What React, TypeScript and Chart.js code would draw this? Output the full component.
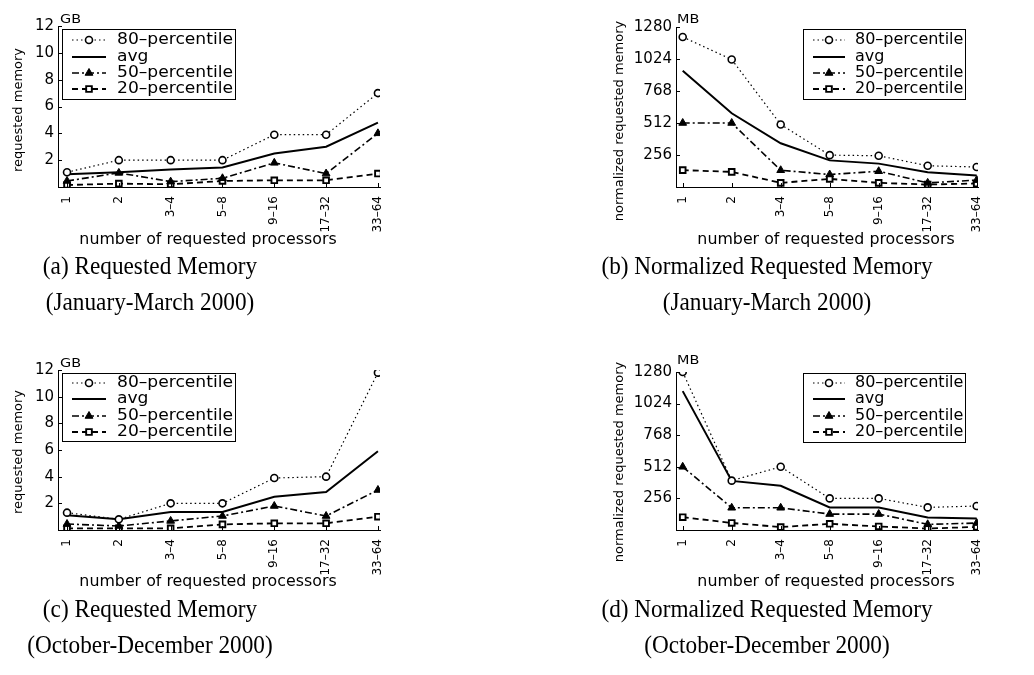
import React, { useEffect, useRef } from 'react';
import { Chart, registerables } from 'chart.js';

Chart.register(...registerables);

// Processor-count buckets on the x axis
const processorGroups = ['1', '2', '3–4', '5–8', '9–16', '17–32', '33–64'];
const seriesNames = ['80–percentile', 'avg', '50–percentile', '20–percentile'];

// Y tick values
const gbTicks = [2, 4, 6, 8, 10, 12];
const mbTicks = [256, 512, 768, 1024, 1280];

// (a) Requested memory, January–March 2000 (GB)
const janMarP80 = [1.1, 2.0, 2.0, 2.0, 3.9, 3.9, 7.0];
const janMarAvg = [0.95, 1.1, 1.3, 1.45, 2.5, 3.0, 4.8];
const janMarP50 = [0.45, 1.05, 0.4, 0.65, 1.8, 1.0, 4.0];
const janMarP20 = [0.15, 0.25, 0.2, 0.45, 0.5, 0.5, 1.0];

// (b) Normalized requested memory, January–March 2000 (MB)
const janMarNormP80 = [1200, 1020, 500, 255, 250, 170, 160];
const janMarNormAvg = [930, 590, 350, 213, 187, 118, 92];
const janMarNormP50 = [512, 512, 134, 100, 126, 33, 55];
const janMarNormP20 = [135, 121, 33, 65, 33, 20, 28];

// (c) Requested memory, October–December 2000 (GB)
const octDecP80 = [1.3, 0.8, 2.0, 2.0, 3.9, 4.0, 11.8];
const octDecAvg = [1.1, 0.8, 1.35, 1.35, 2.5, 2.85, 5.9];
const octDecP50 = [0.45, 0.3, 0.68, 1.05, 1.8, 1.05, 3.0];
const octDecP20 = [0.12, 0.12, 0.12, 0.42, 0.5, 0.5, 1.0];

// (d) Normalized requested memory, October–December 2000 (MB)
const octDecNormP80 = [1280, 400, 512, 256, 256, 183, 194];
const octDecNormAvg = [1125, 398, 358, 183, 183, 102, 94];
const octDecNormP50 = [512, 180, 180, 129, 129, 46, 56];
const octDecNormP20 = [104, 57, 24, 50, 29, 12, 25];

const W = 1034;
const H = 675;
const Y_W = 58;
const X_H = 50;
const SANS = 'DejaVu Sans';

type Legend = { x: number; y: number; w: number; h: number; sample: [number, number]; textX: number; textScale: number; rows: number[] };
type Panel = {
  series: number[][];
  yTicks: number[];
  yMax: number;
  area: { left: number; top: number; right: number; bottom: number };
  xMin: number;
  xMax: number;
  yTitle: string;
  yTitlePos: [number, number];
  xTitlePos: [number, number];
  unit: string;
  unitPos: [number, number];
  legend: Legend;
};

const seriesStyles = [
  { borderDash: [1.5, 3], borderWidth: 1.2, pointStyle: 'circle', pointRadius: 3.5, pointBackgroundColor: '#fff', pointBorderWidth: 1.6 },
  { borderDash: [], borderWidth: 2, pointStyle: 'circle', pointRadius: 0, pointBackgroundColor: '#000', pointBorderWidth: 0 },
  { borderDash: [7, 3, 2, 3], borderWidth: 1.6, pointStyle: 'triangle', pointRadius: 4.5, pointBackgroundColor: '#000', pointBorderWidth: 1 },
  { borderDash: [6, 4], borderWidth: 1.8, pointStyle: 'rect', pointRadius: 4, pointBackgroundColor: '#fff', pointBorderWidth: 1.9 },
];

const panels: Panel[] = [
  {
    series: [janMarP80, janMarAvg, janMarP50, janMarP20],
    yTicks: gbTicks, yMax: 12,
    area: { left: 58, top: 26, right: 380, bottom: 187 },
    xMin: 0.826, xMax: 7.04,
    yTitle: 'requested memory', yTitlePos: [19, 110],
    xTitlePos: [208, 240],
    unit: 'GB', unitPos: [60, 20],
    legend: { x: 62, y: 29, w: 173, h: 70, sample: [72, 106], textX: 117, textScale: 1.07, rows: [40, 57, 73, 89] },
  },
  {
    series: [janMarNormP80, janMarNormAvg, janMarNormP50, janMarNormP20],
    yTicks: mbTicks, yMax: 1280,
    area: { left: 676, top: 27, right: 978, bottom: 187 },
    xMin: 0.863, xMax: 7.027,
    yTitle: 'normalized requested memory', yTitlePos: [620, 121],
    xTitlePos: [826, 240],
    unit: 'MB', unitPos: [677, 20],
    legend: { x: 803, y: 29, w: 162, h: 70, sample: [813, 845], textX: 855, textScale: 1.0, rows: [40, 57, 73, 89] },
  },
  {
    series: [octDecP80, octDecAvg, octDecP50, octDecP20],
    yTicks: gbTicks, yMax: 12,
    area: { left: 58, top: 370, right: 380, bottom: 530 },
    xMin: 0.826, xMax: 7.04,
    yTitle: 'requested memory', yTitlePos: [19, 452],
    xTitlePos: [208, 582],
    unit: 'GB', unitPos: [60, 364],
    legend: { x: 62, y: 373, w: 173, h: 68, sample: [72, 106], textX: 117, textScale: 1.07, rows: [383, 399, 416, 432] },
  },
  {
    series: [octDecNormP80, octDecNormAvg, octDecNormP50, octDecNormP20],
    yTicks: mbTicks, yMax: 1280,
    area: { left: 676, top: 372, right: 978, bottom: 530 },
    xMin: 0.863, xMax: 7.027,
    yTitle: 'normalized requested memory', yTitlePos: [620, 462],
    xTitlePos: [826, 582],
    unit: 'MB', unitPos: [677, 361],
    legend: { x: 803, y: 373, w: 162, h: 69, sample: [813, 845], textX: 855, textScale: 1.0, rows: [383, 399, 416, 432] },
  },
];

function stretchedText(ctx: CanvasRenderingContext2D, text: string, x: number, y: number, font: string, sx: number, align: CanvasTextAlign) {
  ctx.save();
  ctx.font = font;
  ctx.fillStyle = '#000';
  ctx.textAlign = align;
  ctx.textBaseline = 'middle';
  ctx.translate(x, y);
  ctx.scale(sx, 1);
  ctx.fillText(text, 0, 0);
  ctx.restore();
}

function drawMarker(ctx: CanvasRenderingContext2D, style: any, x: number, y: number) {
  const r = style.pointRadius;
  if (!r) return;
  ctx.save();
  ctx.setLineDash([]);
  ctx.lineWidth = style.pointBorderWidth;
  ctx.strokeStyle = '#000';
  ctx.fillStyle = style.pointBackgroundColor;
  ctx.beginPath();
  if (style.pointStyle === 'circle') {
    ctx.arc(x, y, r, 0, Math.PI * 2);
  } else if (style.pointStyle === 'triangle') {
    ctx.moveTo(x, y - r);
    ctx.lineTo(x + r * 0.866, y + r * 0.5);
    ctx.lineTo(x - r * 0.866, y + r * 0.5);
    ctx.closePath();
  } else {
    const s = r * Math.SQRT1_2;
    ctx.rect(x - s, y - s, 2 * s, 2 * s);
  }
  ctx.fill();
  ctx.stroke();
  ctx.restore();
}

function makeDecorations(panel: Panel) {
  return {
    id: 'panelDecorations',
    afterDraw(chart: any) {
      const ctx: CanvasRenderingContext2D = chart.ctx;
      const { left, bottom } = chart.chartArea;
      const xs = chart.scales.x;
      const ys = chart.scales.y;

      // inward tick marks
      ctx.save();
      ctx.strokeStyle = '#000';
      ctx.lineWidth = 1;
      ctx.beginPath();
      panel.yTicks.forEach((v) => {
        const py = Math.round(ys.getPixelForValue(v)) + 0.5;
        ctx.moveTo(left, py);
        ctx.lineTo(left + 4, py);
      });
      processorGroups.forEach((_, i) => {
        const px = Math.round(xs.getPixelForValue(i + 1)) + 0.5;
        ctx.moveTo(px, bottom);
        ctx.lineTo(px, bottom - 4);
      });
      ctx.stroke();
      ctx.restore();

      // axis titles and unit
      ctx.save();
      ctx.translate(panel.yTitlePos[0], panel.yTitlePos[1]);
      ctx.rotate(-Math.PI / 2);
      stretchedText(ctx, panel.yTitle, 0, 0, `13px "${SANS}"`, 1, 'center');
      ctx.restore();
      stretchedText(ctx, 'number of requested processors', panel.xTitlePos[0], panel.xTitlePos[1], `15px "${SANS}"`, 1.055, 'center');
      stretchedText(ctx, panel.unit, panel.unitPos[0], panel.unitPos[1], `12px "${SANS}"`, 1.2, 'left');

      // legend box
      const lg = panel.legend;
      ctx.save();
      ctx.fillStyle = '#fff';
      ctx.fillRect(lg.x, lg.y, lg.w, lg.h);
      ctx.strokeStyle = '#000';
      ctx.lineWidth = 1;
      ctx.strokeRect(lg.x + 0.5, lg.y + 0.5, lg.w, lg.h);
      ctx.restore();
      chart.data.datasets.forEach((ds: any, k: number) => {
        const y = lg.rows[k];
        ctx.save();
        ctx.strokeStyle = '#000';
        ctx.lineWidth = ds.borderWidth;
        ctx.setLineDash(ds.borderDash);
        ctx.beginPath();
        ctx.moveTo(lg.sample[0], y);
        ctx.lineTo(lg.sample[1], y);
        ctx.stroke();
        ctx.restore();
        drawMarker(ctx, seriesStyles[k], (lg.sample[0] + lg.sample[1]) / 2, y);
        stretchedText(ctx, ds.label, lg.textX, y, `16px "${SANS}"`, lg.textScale, 'left');
      });
    },
  };
}

function PanelChart({ panel }: { panel: Panel }) {
  const ref = useRef<HTMLCanvasElement>(null);
  useEffect(() => {
    if (!ref.current) return;
    const { area } = panel;
    const chart = new Chart(ref.current, {
      type: 'line',
      data: {
        datasets: panel.series.map((vals, k) => ({
          label: seriesNames[k],
          data: vals.map((v, i) => ({ x: i + 1, y: v })),
          borderColor: '#000',
          pointBorderColor: '#000',
          tension: 0,
          ...seriesStyles[k],
        })),
      } as any,
      options: {
        responsive: false,
        animation: false,
        events: [],
        layout: {
          padding: {
            left: area.left - Y_W,
            top: area.top,
            right: W - area.right,
            bottom: H - area.bottom - X_H,
          },
        },
        plugins: {
          legend: { display: false },
          tooltip: { enabled: false },
        },
        scales: {
          x: {
            type: 'linear',
            min: panel.xMin,
            max: panel.xMax,
            grid: { display: false, drawTicks: false },
            border: { display: true, color: '#000', width: 1 },
            afterBuildTicks: (s: any) => {
              s.ticks = processorGroups.map((_, i) => ({ value: i + 1 }));
            },
            afterFit: (s: any) => {
              s.height = X_H;
            },
            ticks: {
              autoSkip: false,
              minRotation: 90,
              maxRotation: 90,
              padding: 9,
              color: '#000',
              font: { family: SANS, size: 12 },
              callback: (v: any) => processorGroups[Math.round(Number(v)) - 1] ?? '',
            },
          },
          y: {
            type: 'linear',
            min: 0,
            max: panel.yMax,
            grid: { display: false, drawTicks: false },
            border: { display: true, color: '#000', width: 1 },
            afterBuildTicks: (s: any) => {
              s.ticks = panel.yTicks.map((v) => ({ value: v }));
            },
            afterFit: (s: any) => {
              s.width = Y_W;
            },
            ticks: {
              padding: 4,
              color: '#000',
              font: { family: SANS, size: 15 },
              callback: (v: any) => String(v),
            },
          },
        },
      } as any,
      plugins: [makeDecorations(panel)],
    });
    return () => chart.destroy();
  }, [panel]);
  return (
    <canvas
      ref={ref}
      width={W}
      height={H}
      style={{ position: 'absolute', left: 0, top: 0, width: W, height: H }}
    />
  );
}

const captions = [
  { center: 150, top: 248, lines: ['(a) Requested Memory', '(January-March 2000)'] },
  { center: 767, top: 248, lines: ['(b) Normalized Requested Memory', '(January-March 2000)'] },
  { center: 150, top: 591, lines: ['(c) Requested Memory', '(October-December 2000)'] },
  { center: 767, top: 591, lines: ['(d) Normalized Requested Memory', '(October-December 2000)'] },
];

export default function App() {
  return (
    <div style={{ position: 'absolute', left: 0, top: 0, width: W, height: H, background: '#fff', overflow: 'hidden' }}>
      {panels.map((p, i) => (
        <PanelChart key={i} panel={p} />
      ))}
      {captions.map((c, i) => (
        <div
          key={i}
          style={{
            position: 'absolute',
            left: c.center - 300,
            top: c.top,
            width: 600,
            textAlign: 'center',
            fontFamily: '"Liberation Serif", serif',
            fontSize: 25,
            lineHeight: '36px',
            color: '#000',
            transform: 'scaleX(0.93)',
            transformOrigin: 'center',
          }}
        >
          {c.lines.map((l, j) => (
            <div key={j}>{l}</div>
          ))}
        </div>
      ))}
    </div>
  );
}
